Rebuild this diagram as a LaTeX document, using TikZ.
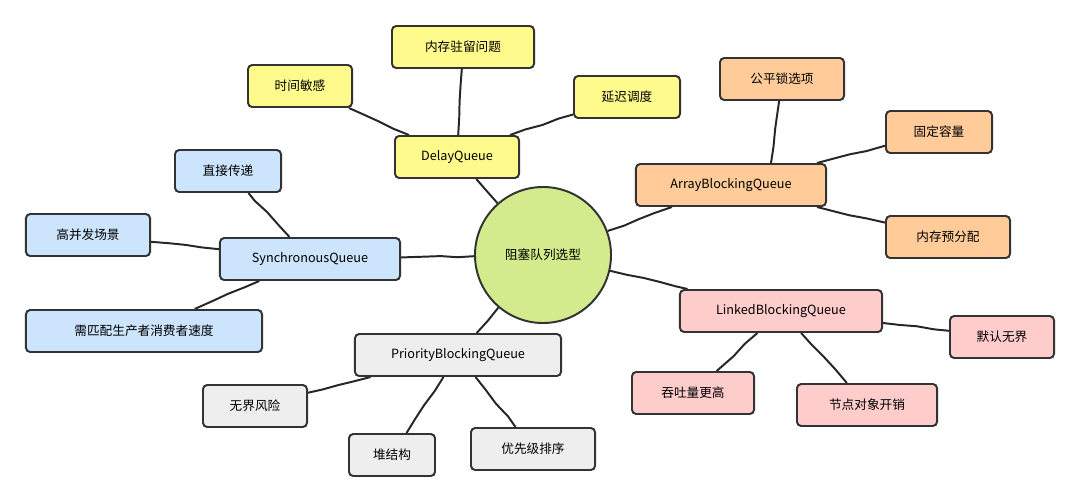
\documentclass[tikz,border=0pt]{standalone}
\usepackage{fontspec}
\setmainfont{Noto Sans CJK SC}
\usetikzlibrary{backgrounds,decorations.pathmorphing}
\definecolor{cy}{HTML}{FFFA8C}
\definecolor{cb}{HTML}{CCE4FC}
\definecolor{co}{HTML}{FFCC99}
\definecolor{cp}{HTML}{FFCCCC}
\definecolor{cg}{HTML}{EEEEEE}
\definecolor{cc}{HTML}{D3EB8C}
\begin{document}
\begin{tikzpicture}[x=0.025cm,y=-0.025cm,
  box/.style={draw=black!80,line width=1.4pt,rounded corners=3pt,minimum height=1.05cm,font=\fontsize{9}{10}\selectfont,inner sep=2pt},
  Y/.style={box,fill=cy},B/.style={box,fill=cb},O/.style={box,fill=co},P/.style={box,fill=cp},G/.style={box,fill=cg},
  ed/.style={draw=black!85,line width=1.4pt,decorate,decoration={random steps,segment length=12pt,amplitude=0.6pt}}]
\useasboundingbox (0,0) rectangle (1080,502);
\node[circle,draw=black!80,line width=1.4pt,fill=cc,minimum size=3.4cm,font=\fontsize{9}{10}\selectfont] (c) at (543,255) {阻塞队列选型};
\node[Y,minimum width=3.1cm] (dq) at (457,157) {DelayQueue};
\node[Y,minimum width=3.55cm] (d1) at (463,47) {内存驻留问题};
\node[Y,minimum width=2.6cm] (d2) at (300,86) {时间敏感};
\node[Y,minimum width=2.65cm] (d3) at (627,97) {延迟调度};
\node[O,minimum width=4.75cm] (ab) at (731,185) {ArrayBlockingQueue};
\node[O,minimum width=3.1cm] (a1) at (782,79) {公平锁选项};
\node[O,minimum width=2.65cm] (a2) at (939,132) {固定容量};
\node[O,minimum width=3.1cm] (a3) at (948,237) {内存预分配};
\node[B,minimum width=4.5cm] (sq) at (310,259) {SynchronousQueue};
\node[B,minimum width=2.65cm] (s1) at (228,171) {直接传递};
\node[B,minimum width=3.1cm] (s2) at (88,235) {高并发场景};
\node[B,minimum width=5.9cm] (s3) at (144,331) {需匹配生产者消费者速度};
\node[P,minimum width=5.05cm] (lb) at (781,311) {LinkedBlockingQueue};
\node[P,minimum width=2.6cm] (l1) at (1002,337) {默认无界};
\node[P,minimum width=3.05cm] (l2) at (693,393) {吞吐量更高};
\node[P,minimum width=3.5cm] (l3) at (867,405) {节点对象开销};
\node[G,minimum width=5.15cm] (pb) at (458,355) {PriorityBlockingQueue};
\node[G,minimum width=2.6cm] (p1) at (255,406) {无界风险};
\node[G,minimum width=2.15cm] (p2) at (392,455) {堆结构};
\node[G,minimum width=3.1cm] (p3) at (533,449) {优先级排序};
\begin{scope}[on background layer]
\draw[ed] (c) -- (dq); \draw[ed] (c) -- (ab); \draw[ed] (c) -- (sq); \draw[ed] (c) -- (lb); \draw[ed] (c) -- (pb);
\draw[ed] (dq) -- (d1); \draw[ed] (dq.north west) ++(15,0) -- (d2); \draw[ed] (dq.north east) ++(-10,0) -- (d3);
\draw[ed] (ab.north) ++(40,0) -- (a1); \draw[ed] (ab.north east) ++(-10,0) -- (a2); \draw[ed] (ab.south east) ++(-10,0) -- (a3);
\draw[ed] (sq) -- (s1); \draw[ed] (sq) -- (s2); \draw[ed] (sq) -- (s3);
\draw[ed] (lb) -- (l1); \draw[ed] (lb) -- (l2); \draw[ed] (lb) -- (l3);
\draw[ed] (pb) -- (p1); \draw[ed] (pb) -- (p2); \draw[ed] (pb) -- (p3);
\end{scope}
\end{tikzpicture}
\end{document}
